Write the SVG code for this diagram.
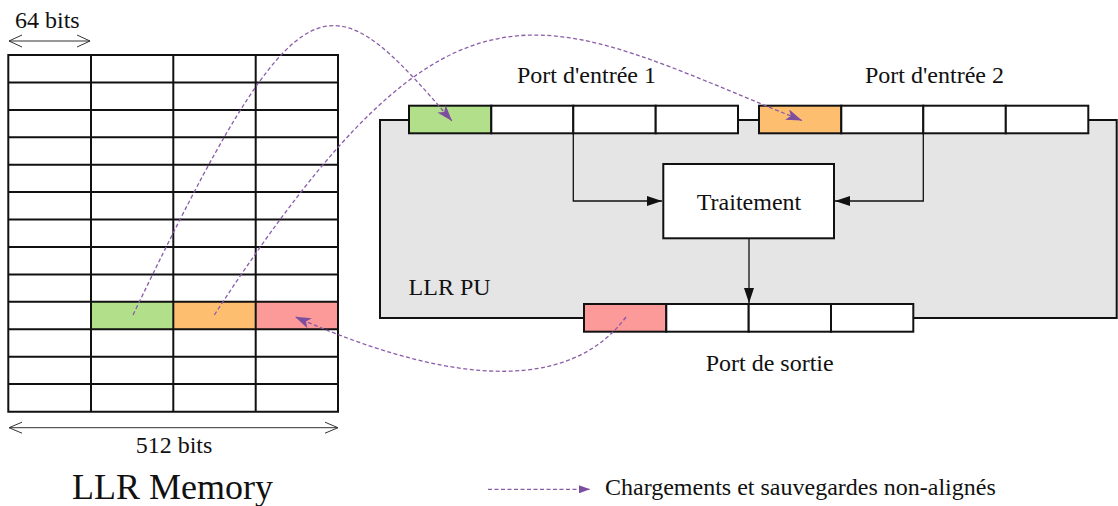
<svg xmlns="http://www.w3.org/2000/svg" width="1118" height="506" viewBox="0 0 1118 506">
<style>
text{font-family:"Liberation Serif","Times New Roman",serif;font-size:24px;fill:#111}
.cell{fill:#fff;stroke:#111;stroke-width:2}
.g{fill:#b2df8a}.o{fill:#fdbf6f}.r{fill:#fb9a99}
.grid{stroke:#111;stroke-width:2;fill:none}
.conn{stroke:#111;stroke-width:1.3;fill:none}
.dash{stroke:#8a5ca8;stroke-width:1.3;fill:none;stroke-dasharray:4 2.5}
.dim{stroke:#333;stroke-width:1;fill:none}
</style>
<defs>
<marker id="ah" markerUnits="userSpaceOnUse" markerWidth="15" markerHeight="10" refX="15" refY="5" orient="auto">
<path d="M0,0 L15,5 L0,10 z" fill="#111"/>
</marker>
<marker id="ph" markerUnits="userSpaceOnUse" markerWidth="16" markerHeight="11" refX="16" refY="5.5" orient="auto">
<path d="M0,0 L16,5.5 L0,11 L4,5.5 z" fill="#7b4f9e"/>
</marker>
<marker id="phs" markerUnits="userSpaceOnUse" markerWidth="11" markerHeight="8" refX="11" refY="4" orient="auto">
<path d="M0,0 L11,4 L0,8 z" fill="#7b4f9e"/>
</marker>
</defs>

<g id="memory">
<rect x="8.3" y="55" width="329.7" height="356.7" fill="#fff"/>
<rect x="91" y="301.6" width="82.3" height="27.4" class="g"/>
<rect x="173.3" y="301.6" width="82.4" height="27.4" class="o"/>
<rect x="255.7" y="301.6" width="82.3" height="27.4" class="r"/>
<path class="grid" d="M8.3,55H338V411.7H8.3Z M91,55V411.7 M173.3,55V411.7 M255.7,55V411.7
M8.3,82.4H338 M8.3,109.9H338 M8.3,137.3H338 M8.3,164.7H338 M8.3,192.1H338 M8.3,219.6H338 M8.3,247H338 M8.3,274.4H338 M8.3,301.8H338 M8.3,329.2H338 M8.3,356.7H338 M8.3,384.1H338"/>
</g>

<g id="dim64">
<text x="15" y="28">64 bits</text>
<path class="dim" d="M9,41H90 M22,35L9,41L22,47 M77,35L90,41L77,47"/>
</g>
<g id="dim512">
<path class="dim" d="M9,427.7H338 M22,422.2L9,427.7L22,433.2 M325,422.2L338,427.7L325,433.2"/>
<text x="174" y="453" text-anchor="middle">512 bits</text>
</g>
<text x="72" y="499" style="font-size:36px">LLR Memory</text>

<g id="pu">
<rect x="380" y="120" width="736.7" height="198" fill="#e5e5e5" stroke="#111" stroke-width="2"/>
<text x="408.6" y="295">LLR PU</text>
</g>

<g id="port1">
<rect x="409" y="105.7" width="82.3" height="27.6" class="cell g"/>
<rect x="491.3" y="105.7" width="82" height="27.6" class="cell"/>
<rect x="573.3" y="105.7" width="82.4" height="27.6" class="cell"/>
<rect x="655.7" y="105.7" width="82.3" height="27.6" class="cell"/>
<text x="517" y="82.7">Port d'entrée 1</text>
</g>

<g id="port2">
<rect x="759" y="105.7" width="82.3" height="27.6" class="cell o"/>
<rect x="841.3" y="105.7" width="82" height="27.6" class="cell"/>
<rect x="923.3" y="105.7" width="82.5" height="27.6" class="cell"/>
<rect x="1005.8" y="105.7" width="82.5" height="27.6" class="cell"/>
<text x="865" y="82.7">Port d'entrée 2</text>
</g>

<g id="traitement">
<rect x="663.3" y="164" width="170.7" height="74.3" class="cell"/>
<text x="749" y="210" text-anchor="middle">Traitement</text>
</g>

<g id="outport">
<rect x="584" y="304" width="82.3" height="27.7" class="cell r"/>
<rect x="666.3" y="304" width="82.4" height="27.7" class="cell"/>
<rect x="748.7" y="304" width="82.3" height="27.7" class="cell"/>
<rect x="831" y="304" width="82.3" height="27.7" class="cell"/>
<text x="705.7" y="370.7">Port de sortie</text>
</g>

<g id="connectors">
<path class="conn" d="M573.3,134V201H662" marker-end="url(#ah)"/>
<path class="conn" d="M923.3,134V201H835" marker-end="url(#ah)"/>
<path class="conn" d="M749,239V303" marker-end="url(#ah)"/>
<path class="dash" d="M133,315 C303,-39 328.8,-21.8 452,121" marker-end="url(#ph)"/>
<path class="dash" d="M214.3,315 C457.6,-58.8 539.5,15 802,120.5" marker-end="url(#ph)"/>
<path class="dash" d="M626,317 C560,405 420,372 295,316.7" marker-end="url(#ph)"/>
</g>

<g id="legend">
<path class="dash" d="M488,489.3H590" marker-end="url(#phs)"/>
<text x="605" y="495">Chargements et sauvegardes non-alignés</text>
</g>
</svg>
